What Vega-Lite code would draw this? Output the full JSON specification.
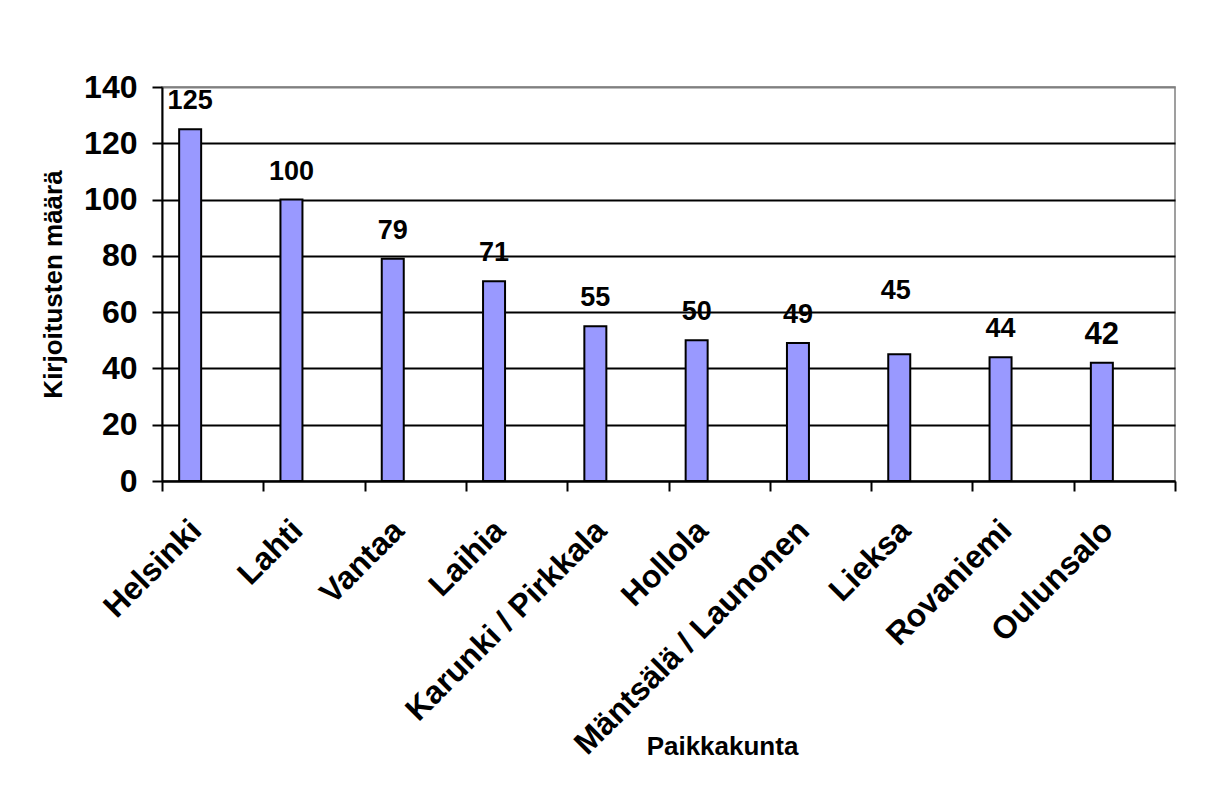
{
  "$schema": "https://vega.github.io/schema/vega-lite/v6.json",
  "width": 1013,
  "height": 394,
  "autosize": {"type": "none"},
  "padding": {"left": 162, "top": 87, "right": 50, "bottom": 328},
  "background": "white",
  "config": {
    "font": "Liberation Sans",
    "view": {"stroke": "#808080", "strokeWidth": 1.5}
  },
  "data": {
    "values": [
      {"place": "Helsinki", "count": 125},
      {"place": "Lahti", "count": 100},
      {"place": "Vantaa", "count": 79},
      {"place": "Laihia", "count": 71},
      {"place": "Karunki / Pirkkala", "count": 55},
      {"place": "Hollola", "count": 50},
      {"place": "Mäntsälä / Launonen", "count": 49},
      {"place": "Lieksa", "count": 45},
      {"place": "Rovaniemi", "count": 44},
      {"place": "Oulunsalo", "count": 42}
    ]
  },
  "encoding": {
    "x": {
      "field": "place",
      "type": "nominal",
      "sort": null,
      "scale": {"paddingInner": 0, "paddingOuter": 0},
      "axis": {
        "title": "Paikkakunta",
        "labelAngle": -45,
        "labelAlign": "right",
        "labelBaseline": "middle",
        "labelFontSize": 32,
        "labelFontWeight": "bold",
        "labelColor": "black",
        "labelPadding": 34,
        "labelOffset": -17,
        "labelLimit": 0,
        "tickBand": "extent",
        "ticks": true,
        "tickSize": 10,
        "tickColor": "black",
        "tickWidth": 2,
        "domainColor": "black",
        "domainWidth": 2,
        "grid": false,
        "titleFontSize": 26,
        "titleFontWeight": "bold",
        "titleColor": "black",
        "titleX": 560,
        "titleY": 265,
        "titleBaseline": "middle",
        "titleAlign": "center"
      }
    },
    "y": {
      "field": "count",
      "type": "quantitative",
      "scale": {"domain": [0, 140]},
      "axis": {
        "title": "Kirjoitusten määrä",
        "values": [0, 20, 40, 60, 80, 100, 120, 140],
        "labelFontSize": 32,
        "labelFontWeight": "bold",
        "labelColor": "black",
        "labelPadding": 15,
        "tickSize": 10,
        "tickColor": "black",
        "tickWidth": 2,
        "domainColor": "black",
        "domainWidth": 2,
        "grid": true,
        "gridColor": {"condition": {"test": "datum.value === 140", "value": "#808080"}, "value": "black"},
        "gridWidth": 2,
        "gridOpacity": 1,
        "titleFontSize": 26,
        "titleFontWeight": "bold",
        "titleColor": "black",
        "titleX": -109,
        "titleY": 197,
        "titleBaseline": "middle",
        "titleAlign": "center"
      }
    }
  },
  "layer": [
    {
      "mark": {"type": "bar", "fill": "#9999FF", "stroke": "black", "strokeWidth": 2, "width": 22, "xOffset": -22.5}
    },
    {
      "transform": [{"filter": "datum.place !== 'Lieksa'"}],
      "mark": {"type": "text", "fontWeight": "bold", "baseline": "middle", "align": "center", "dy": -28, "xOffset": -22.5, "color": "black"},
      "encoding": {
        "text": {"field": "count", "type": "quantitative"},
        "size": {"condition": {"test": "datum.place === 'Oulunsalo'", "value": 31}, "value": 27}
      }
    },
    {
      "transform": [{"filter": "datum.place === 'Lieksa'"}],
      "mark": {"type": "text", "fontWeight": "bold", "baseline": "middle", "align": "center", "dy": -63, "xOffset": -26, "fontSize": 27, "color": "black"},
      "encoding": {
        "text": {"field": "count", "type": "quantitative"}
      }
    }
  ]
}
